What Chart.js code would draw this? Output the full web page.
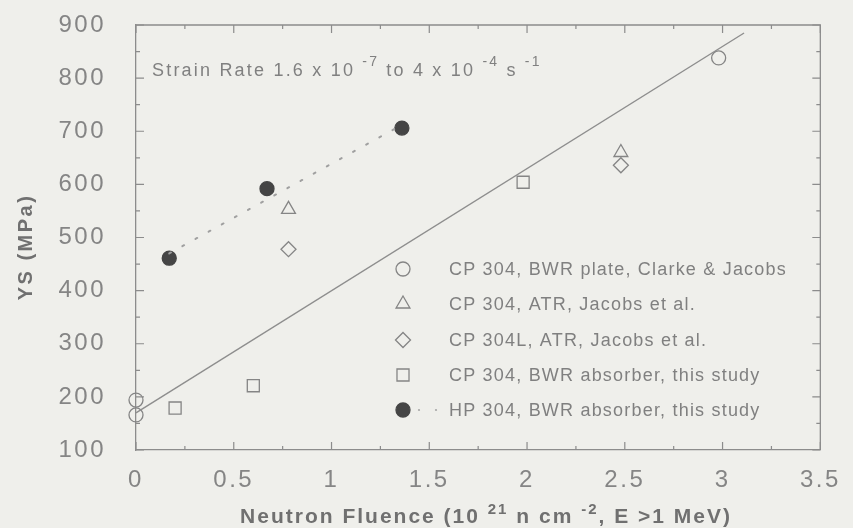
<!DOCTYPE html>
<html>
<head>
<meta charset="utf-8">
<script src="https://cdn.jsdelivr.net/npm/chart.js@4.4.1/dist/chart.umd.min.js"></script>
<style>
  html, body { margin: 0; padding: 0; background: #efefeb; }
  #wrap { width: 853px; height: 528px; }
</style>
</head>
<body>
<div id="wrap"><canvas id="c" width="853" height="528"></canvas></div>
<script>
// ---- data ----
const xTicks = [0, 0.5, 1, 1.5, 2, 2.5, 3, 3.5];
const yTicks = [100, 200, 300, 400, 500, 600, 700, 800, 900];

const seriesNames = [
  'CP 304, BWR plate, Clarke & Jacobs',
  'CP 304, ATR, Jacobs et al.',
  'CP 304L, ATR, Jacobs et al.',
  'CP 304, BWR absorber, this study',
  'HP 304, BWR absorber, this study'
];
const cp304PlateX = [0, 0, 2.98];
const cp304PlateY = [194, 166, 838];
const cp304AtrX = [0.78, 2.48];
const cp304AtrY = [553, 660];
const cp304LAtrX = [0.78, 2.48];
const cp304LAtrY = [478, 636];
const cp304AbsX = [0.20, 0.60, 1.98];
const cp304AbsY = [179, 221, 604];
const hp304AbsX = [0.17, 0.67, 1.36];
const hp304AbsY = [461, 592, 706];

// trend lines (end points)
const cpFitX = [0, 3.11];
const cpFitY = [170, 885];
const hpFitX = [0.17, 1.36];
const hpFitY = [470, 712];

const zip = (xs, ys) => xs.map((x, i) => ({ x: x, y: ys[i] }));

const OPEN = '#858585';
const FILLED = '#454545';
const AXIS = '#8c8c8c';
const TXT = '#808080';

const markerStyles = [
  { style: 'circle', r: 7, fill: false },
  { style: 'triangle', r: 8, fill: false },
  { style: 'rectRot', r: 7.5, fill: false },
  { style: 'rect', r: 8.5, fill: false },
  { style: 'circle', r: 7, fill: true }
];

const pointSets = [
  zip(cp304PlateX, cp304PlateY),
  zip(cp304AtrX, cp304AtrY),
  zip(cp304LAtrX, cp304LAtrY),
  zip(cp304AbsX, cp304AbsY),
  zip(hp304AbsX, hp304AbsY)
];

const datasets = [
  {
    label: 'CP fit', data: zip(cpFitX, cpFitY), showLine: true,
    borderColor: '#8e8e8e', borderWidth: 1.4, pointRadius: 0, fill: false
  },
  {
    label: 'HP fit', data: zip(hpFitX, hpFitY), showLine: true,
    borderColor: '#a0a0a0', borderWidth: 2, borderDash: [2, 13], borderCapStyle: 'round',
    pointRadius: 0, fill: false
  }
];
pointSets.forEach((pts, i) => {
  const m = markerStyles[i];
  datasets.push({
    label: seriesNames[i], data: pts, showLine: false, clip: false,
    pointStyle: m.style, pointRadius: m.r, pointHoverRadius: m.r,
    borderColor: m.fill ? FILLED : OPEN,
    backgroundColor: m.fill ? FILLED : 'rgba(0,0,0,0)',
    borderWidth: 1.3
  });
});

function drawRich(ctx, parts, x, y, size, supSize, supRaise) {
  let cx = x;
  parts.forEach(p => {
    if (p.sup) {
      ctx.font = p.font.replace('SIZE', supSize);
      ctx.fillText(p.t, cx, y - supRaise);
    } else {
      ctx.font = p.font.replace('SIZE', size);
      ctx.fillText(p.t, cx, y);
    }
    cx += ctx.measureText(p.t).width;
  });
  return cx;
}
function richWidth(ctx, parts, size, supSize) {
  let w = 0;
  parts.forEach(p => {
    ctx.font = p.font.replace('SIZE', p.sup ? supSize : size);
    w += ctx.measureText(p.t).width;
  });
  return w;
}

function drawMarker(ctx, m, x, y) {
  ctx.save();
  ctx.lineWidth = 1.3;
  ctx.strokeStyle = m.fill ? FILLED : OPEN;
  ctx.fillStyle = FILLED;
  ctx.beginPath();
  const r = m.r;
  if (m.style === 'circle') {
    ctx.arc(x, y, r, 0, Math.PI * 2);
  } else if (m.style === 'triangle') {
    ctx.moveTo(x, y - r);
    ctx.lineTo(x + r * Math.sin(Math.PI * 2 / 3), y + r / 2);
    ctx.lineTo(x - r * Math.sin(Math.PI * 2 / 3), y + r / 2);
    ctx.closePath();
  } else if (m.style === 'rectRot') {
    ctx.moveTo(x - r, y); ctx.lineTo(x, y - r); ctx.lineTo(x + r, y); ctx.lineTo(x, y + r);
    ctx.closePath();
  } else if (m.style === 'rect') {
    const s = r * Math.SQRT1_2;
    ctx.rect(x - s, y - s, 2 * s, 2 * s);
  }
  if (m.fill) ctx.fill();
  ctx.stroke();
  ctx.restore();
}

const decor = {
  id: 'decor',
  beforeDraw(chart) {
    const ctx = chart.ctx;
    ctx.save();
    ctx.fillStyle = '#efefeb';
    ctx.fillRect(0, 0, chart.width, chart.height);
    ctx.restore();
    ctx.letterSpacing = '2.5px';
  },
  beforeDatasetsDraw(chart) {
    chart.ctx.letterSpacing = '0px';
  },
  afterDraw(chart) {
    const ctx = chart.ctx;
    const xs = chart.scales.x, ys = chart.scales.y;
    const a = chart.chartArea;
    ctx.save();
    ctx.letterSpacing = '0px';
    // frame (top and right)
    ctx.strokeStyle = AXIS;
    ctx.lineWidth = 1.3;
    ctx.beginPath();
    ctx.moveTo(a.left, a.top); ctx.lineTo(a.right, a.top); ctx.lineTo(a.right, a.bottom);
    ctx.stroke();
    // inner ticks
    ctx.lineWidth = 1.2;
    ctx.beginPath();
    for (let v = 0; v <= 3.5001; v += 0.25) {
      const px = xs.getPixelForValue(v);
      const major = Math.abs(v * 2 - Math.round(v * 2)) < 1e-6;
      const len = major ? 8 : 4;
      ctx.moveTo(px, a.bottom); ctx.lineTo(px, a.bottom - len);
      ctx.moveTo(px, a.top); ctx.lineTo(px, a.top + len);
    }
    for (let v = 100; v <= 900; v += 50) {
      const py = ys.getPixelForValue(v);
      const major = v % 100 === 0;
      const len = major ? 8 : 4;
      ctx.moveTo(a.left, py); ctx.lineTo(a.left + len, py);
      ctx.moveTo(a.right, py); ctx.lineTo(a.right - len, py);
    }
    ctx.stroke();

    // annotation
    ctx.fillStyle = TXT;
    ctx.textBaseline = 'alphabetic';
    ctx.textAlign = 'left';
    ctx.letterSpacing = '2.2px';
    const F = 'SIZEpx "Liberation Sans", Arial, sans-serif';
    drawRich(ctx, [
      { t: 'Strain Rate 1.6 x 10 ', font: F },
      { t: '-7', font: F, sup: true },
      { t: ' to 4 x 10 ', font: F },
      { t: '-4', font: F, sup: true },
      { t: ' s ', font: F },
      { t: '-1', font: F, sup: true }
    ], 152, 76, 18, 14, 10);

    // legend
    const rowsY = [269, 304, 340, 375, 410];
    ctx.letterSpacing = '1.2px';
    ctx.font = '18px "Liberation Sans", Arial, sans-serif';
    ctx.textBaseline = 'middle';
    seriesNames.forEach((name, i) => {
      drawMarker(ctx, markerStyles[i], 403, rowsY[i]);
      ctx.fillStyle = TXT;
      ctx.fillText(name, 449, rowsY[i] + 1);
    });
    // dotted sample next to HP marker
    ctx.fillStyle = '#a8a8a8';
    [[419, 410], [436, 410]].forEach(p => { ctx.beginPath(); ctx.arc(p[0], p[1], 1.1, 0, Math.PI * 2); ctx.fill(); });

    // axis titles
    ctx.fillStyle = '#707070';
    ctx.letterSpacing = '2px';
    ctx.textBaseline = 'alphabetic';
    const FB = 'bold SIZEpx "Liberation Sans", Arial, sans-serif';
    const xParts = [
      { t: 'Neutron Fluence (10 ', font: FB },
      { t: '21', font: FB, sup: true },
      { t: ' n cm ', font: FB },
      { t: '-2', font: FB, sup: true },
      { t: ', E >1 MeV)', font: FB }
    ];
    const w = richWidth(ctx, xParts, 21, 15);
    drawRich(ctx, xParts, 486 - w / 2, 523, 21, 15, 9);

    ctx.translate(32, 247);
    ctx.rotate(-Math.PI / 2);
    ctx.textAlign = 'center';
    ctx.letterSpacing = '2.5px';
    ctx.font = 'bold 20px "Liberation Sans", Arial, sans-serif';
    ctx.fillText('YS (MPa)', 0, 0);
    ctx.restore();
  }
};

new Chart(document.getElementById('c'), {
  type: 'scatter',
  data: { datasets: datasets },
  options: {
    responsive: false,
    animation: false,
    events: [],
    layout: { padding: { left: 0, top: 25, right: 31, bottom: 0 } },
    plugins: { legend: { display: false }, tooltip: { enabled: false } },
    scales: {
      x: {
        type: 'linear', min: 0, max: 3.5,
        afterBuildTicks: s => { s.ticks = xTicks.map(v => ({ value: v })); },
        afterFit: s => { s.height = 78; },
        grid: { display: false, drawTicks: false },
        border: { display: true, color: AXIS, width: 1.3 },
        ticks: {
          padding: 16, color: '#858585',
          font: { family: '"Liberation Sans", Arial, sans-serif', size: 24 },
          callback: v => String(v)
        }
      },
      y: {
        type: 'linear', min: 100, max: 900,
        afterBuildTicks: s => { s.ticks = yTicks.map(v => ({ value: v })); },
        afterFit: s => { s.width = 136; s.paddingTop = 0; s.paddingBottom = 0; },
        grid: { display: false, drawTicks: false },
        border: { display: true, color: AXIS, width: 1.3 },
        ticks: {
          padding: 30, color: '#858585',
          font: { family: '"Liberation Sans", Arial, sans-serif', size: 24 },
          callback: v => String(v)
        }
      }
    }
  },
  plugins: [decor]
});
</script>
</body>
</html>
